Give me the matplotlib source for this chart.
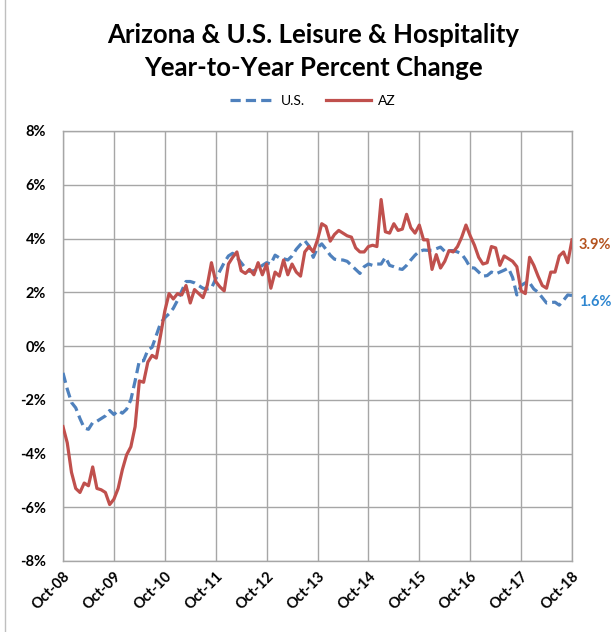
import matplotlib
matplotlib.use("Agg")
import matplotlib.pyplot as plt
from matplotlib.lines import Line2D

# monthly year-over-year % change, Oct-08 .. Oct-18
us = [-1.0, -1.6, -2.1, -2.3, -2.7, -3.05, -3.1, -2.85, -2.8, -2.7, -2.6, -2.4,
      -2.55, -2.4, -2.5, -2.35, -2.0, -1.3, -0.55, -0.55, -0.15, -0.05, 0.4, 0.85,
      1.05, 1.2, 1.4, 1.7, 2.05, 2.4, 2.4, 2.35, 2.25, 2.15, 2.12, 2.15,
      2.5, 2.8, 3.1, 3.35, 3.45, 3.3, 3.1, 2.9, 2.78, 2.8, 2.88, 3.0,
      3.1, 3.05, 3.38, 3.28, 3.25, 3.2, 3.35, 3.6, 3.78, 3.92, 3.72, 3.3,
      3.65, 3.8, 3.6, 3.38, 3.23, 3.2, 3.2, 3.15, 3.0, 2.85, 2.7, 2.95,
      3.05, 3.0, 3.05, 3.05, 3.3, 3.0, 2.95, 2.88, 2.85, 3.0, 3.2, 3.38,
      3.52, 3.57, 3.56, 3.56, 3.62, 3.68, 3.52, 3.55, 3.55, 3.5, 3.42, 3.2,
      2.92, 2.9, 2.75, 2.6, 2.62, 2.75, 2.68, 2.75, 2.82, 2.9, 2.55, 1.9,
      2.25, 2.35, 2.35, 2.12, 2.0, 1.8, 1.6, 1.62, 1.63, 1.52, 1.7, 1.9,
      1.88]
az = [-3.0, -3.6, -4.7, -5.3, -5.45, -5.1, -5.2, -4.5, -5.3, -5.35, -5.45, -5.9,
      -5.7, -5.3, -4.6, -4.05, -3.75, -3.0, -1.3, -1.35, -0.6, -0.35, -0.45, 0.4,
      1.3, 1.95, 1.75, 1.95, 1.9, 2.25, 1.6, 2.1, 1.95, 1.8, 2.25, 3.1,
      2.4, 2.2, 2.05, 3.05, 3.3, 3.5, 2.8, 2.7, 2.85, 2.65, 3.1, 2.65,
      3.05, 2.15, 2.75, 2.6, 3.2, 2.65, 3.05, 2.75, 2.6, 3.5, 3.7, 3.5,
      3.95, 4.55, 4.45, 3.9, 4.15, 4.3, 4.2, 4.1, 4.05, 3.65, 3.5, 3.5,
      3.7, 3.75, 3.7, 5.45, 4.25, 4.2, 4.55, 4.3, 4.35, 4.9, 4.4, 4.2,
      4.5, 3.95, 3.95, 2.85, 3.4, 2.9, 3.15, 3.55, 3.5, 3.7, 4.05, 4.5,
      4.1, 3.75, 3.3, 3.05, 3.1, 3.7, 3.65, 3.0, 3.35, 3.25, 3.15, 2.95,
      2.05, 1.95, 3.3, 3.0, 2.6, 2.25, 2.15, 2.75, 2.75, 3.35, 3.5, 3.1,
      3.95]
xlabels = ["Oct-08", "Oct-09", "Oct-10", "Oct-11", "Oct-12", "Oct-13",
           "Oct-14", "Oct-15", "Oct-16", "Oct-17", "Oct-18"]
yticks = [-8, -6, -4, -2, 0, 2, 4, 6, 8]
end_labels = ["3.9%", "1.6%"]   # AZ, U.S.

plt.rcParams['font.family'] = ['Lato', 'DejaVu Sans']

fig = plt.figure(figsize=(6.13, 6.32), dpi=100)
ax = fig.add_axes([63/613, 1-561/632, (572-63)/613, (561-131)/632])

months = list(range(len(us)))
ax.plot(months, us, color='#4F81BD', lw=2.3, ls=(0, (3.2, 1.6)), label='U.S.',
        zorder=3)
ax.plot(months, az, color='#C0504D', lw=2.3, label='AZ', zorder=4)

ax.set_xlim(0, 120)
ax.set_ylim(-8, 8)
ax.set_xticks(range(0, 121, 12))
ax.set_xticklabels(xlabels, rotation=45, ha='right', va='top',
                   rotation_mode='anchor', fontweight='bold', fontsize=10.5)
ax.set_yticks(yticks)
ax.set_yticklabels([f"{v}%" for v in yticks], fontweight='bold', fontsize=10.5)
ax.tick_params(axis='both', length=0)
ax.tick_params(axis='y', pad=12)
ax.tick_params(axis='x', pad=6)
ax.grid(True, color='#a6a6a6', lw=1.0)
ax.set_axisbelow(True)
for s in ax.spines.values():
    s.set_color('#a6a6a6')
    s.set_linewidth(1.0)

ax.annotate(end_labels[0], (120, az[-1]), xytext=(5, -4),
            textcoords='offset points', color='#B4531F', fontweight='bold',
            fontsize=10.5, va='center', annotation_clip=False)
ax.annotate(end_labels[1], (120, us[-1]), xytext=(5, -5),
            textcoords='offset points', color='#2E86D0', fontweight='bold',
            fontsize=10.5, va='center', annotation_clip=False)

fig.text(0.511, 0.945, "Arizona & U.S. Leisure & Hospitality", ha='center',
         va='center', fontsize=18.5, fontweight='bold')
fig.text(0.511, 0.893, "Year-to-Year Percent Change", ha='center',
         va='center', fontsize=18.5, fontweight='bold')

handles = [Line2D([], [], color='#4F81BD', lw=2.3, ls=(0, (3.2, 1.6))),
           Line2D([], [], color='#C0504D', lw=2.3)]
fig.legend(handles, ['U.S.', 'AZ'], loc='center', bbox_to_anchor=(0.51, 0.84),
           ncol=2, frameon=False, fontsize=10, handlelength=3.2,
           columnspacing=1.5, handletextpad=0.5)

fig.add_artist(Line2D([5/613, 5/613], [0, 1], color='#bfbfbf', lw=1.0))

plt.savefig("out.png", dpi=100)
